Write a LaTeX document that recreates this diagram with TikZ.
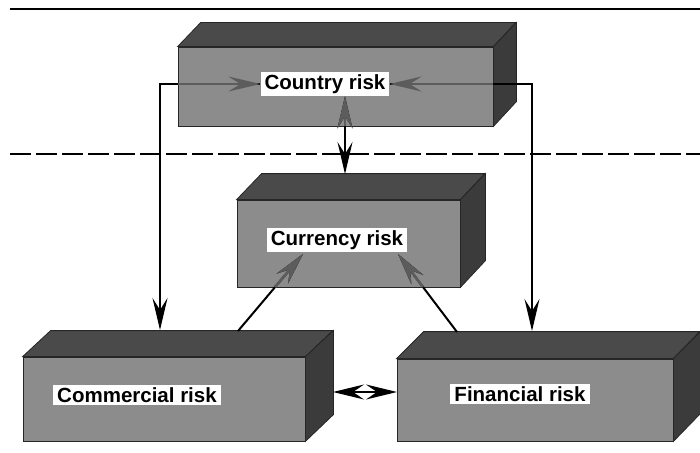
\documentclass[tikz,border=0pt]{standalone}
\usepackage{fontspec}
\setmainfont{Liberation Sans}
\usetikzlibrary{arrows.meta}
\definecolor{frontgray}{gray}{0.55}
\definecolor{topgray}{gray}{0.29}
\definecolor{sidegray}{gray}{0.23}
\definecolor{arrowgray}{gray}{0.36}
\tikzset{
  frontbox/.style={draw=black!85, line width=0.8pt, fill=frontgray, rectangle, inner sep=0pt},
  topface/.style={fill=topgray, draw=black!85, line width=0.8pt},
  sideface/.style={fill=sidegray, draw=black!85, line width=0.8pt},
  riskname/.style={fill=white, inner xsep=4pt, inner ysep=2.5pt, font=\bfseries\fontsize{20.5}{24}\selectfont, text=black},
  conn/.style={line width=2pt, black},
  inbox/.style={line width=2.6pt, arrowgray},
  tipa/.tip={Stealth[length=32pt,width=15pt,inset=12pt]},
  tipb/.tip={Stealth[length=31pt,width=15pt,inset=11pt]},
}
\begin{document}
\begin{tikzpicture}[x=1pt,y=-1pt]
\useasboundingbox (0,0) rectangle (700,452);
% separating lines
\draw[line width=1.5pt] (10,9) -- (700,9);
\draw[line width=1.4pt, dash pattern=on 21pt off 5pt] (10,154) -- (700,154);

% Country box
\node[frontbox, minimum width=315pt, minimum height=79pt] (cf) at (335.5,86.5) {};
\draw[topface] (cf.north west) -- ++(23,-24) -- ++(315,0) -- (cf.north east) -- cycle;
\draw[sideface] (cf.north east) -- ++(23,-24) -- ++(0,79) -- (cf.south east) -- cycle;
% Currency box
\node[frontbox, minimum width=223pt, minimum height=87pt] (uf) at (348.5,243.5) {};
\draw[topface] (uf.north west) -- ++(25,-26) -- ++(223,0) -- (uf.north east) -- cycle;
\draw[sideface] (uf.north east) -- ++(25,-26) -- ++(0,87) -- (uf.south east) -- cycle;
% Commercial box
\node[frontbox, minimum width=282pt, minimum height=84pt] (mf) at (164,399) {};
\draw[topface] (mf.north west) -- ++(28,-26) -- ++(282,0) -- (mf.north east) -- cycle;
\draw[sideface] (mf.north east) -- ++(28,-26) -- ++(0,84) -- (mf.south east) -- cycle;
% Financial box
\node[frontbox, minimum width=276pt, minimum height=82pt] (ff) at (535,400) {};
\draw[topface] (ff.north west) -- ++(27,-27) -- ++(276,0) -- (ff.north east) -- cycle;
\draw[sideface] (ff.north east) -- ++(27,-27) -- ++(0,82) -- (ff.south east) -- cycle;

% labels
\node[riskname] (cl) at (325,84) {Country risk};
\node[riskname] (ul) at (337,240) {Currency risk};
\node[riskname] (ml) at (137,395) {Commercial risk};
\node[riskname] (fl) at (520,394) {Financial risk};

% connector end points
\coordinate (mTop) at (160,330);
\coordinate (fTop) at (532,331);
\coordinate (uTop) at (345,174);
\coordinate (mDiag) at (238,331);
\coordinate (fDiag) at (457,332);
\coordinate (ulA) at (303,254);
\coordinate (ulB) at (398,254);
\coordinate (mSide) at (333,392);
\coordinate (fSide) at (397,392);
\coordinate (inA) at (275,287);
\coordinate (inB) at (423,287);

% Country risk links
\draw[conn, -{tipa}] (cl.west) -| (mTop);
\draw[inbox, -{tipa}] (cf.west |- cl.west) -- (cl.west);
\draw[conn, -{tipa}] (cl.east) -| (fTop);
\draw[inbox, -{tipa}] (cf.east |- cl.east) -- (cl.east);
\draw[conn, {tipa}-{tipa}] (uTop |- cl.south) -- (uTop);
\draw[inbox, -{tipa}] (uTop |- cf.south) -- (uTop |- cl.south);
% Currency risk links
\draw[conn, -{tipa}] (mDiag) -- (ulA);
\draw[inbox, -{tipa}] (inA) -- (ulA);
\draw[conn, -{tipa}] (fDiag) -- (ulB);
\draw[inbox, -{tipa}] (inB) -- (ulB);
% Commercial <-> Financial
\draw[conn, {tipb}-{tipb}] (mSide) -- (fSide);
\end{tikzpicture}
\end{document}
